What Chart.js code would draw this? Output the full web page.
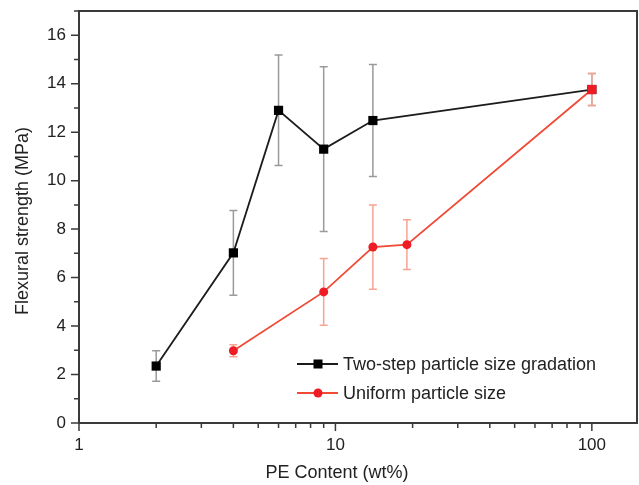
<!DOCTYPE html>
<html>
<head>
<meta charset="utf-8">
<script src="https://cdn.jsdelivr.net/npm/chart.js@4"></script>
<style>
  body { margin: 0; background: #fff; }
  #wrap { width: 639px; height: 485px; position: relative; }
</style>
</head>
<body>
<div id="wrap"><canvas id="chart"></canvas></div>
<script>
// data
const twoStepX = [2, 4, 6, 9, 14, 100];
const twoStepY = [2.35, 7.02, 12.9, 11.3, 12.48, 13.76];
const twoStepErr = [0.63, 1.75, 2.28, 3.4, 2.31, 0.66];

const uniformX = [4, 9, 14, 19, 100];
const uniformY = [2.98, 5.41, 7.26, 7.36, 13.76];
const uniformErr = [0.25, 1.38, 1.74, 1.03, 0.66];

const xTickLabels = [1, 10, 100];
const yTickLabels = [0, 2, 4, 6, 8, 10, 12, 14, 16];

const xTitle = "PE Content (wt%)";
const yTitle = "Flexural strength (MPa)";

const FONT = "'Liberation Sans', Arial, sans-serif";

function toPoints(xs, ys) {
  return xs.map(function (x, i) { return { x: x, y: ys[i] }; });
}

// error bars drawn under the lines
const errorBars = {
  id: "errorBars",
  beforeDatasetsDraw: function (chart) {
    var ctx = chart.ctx;
    var xs = chart.scales.x, ys = chart.scales.y;
    var sets = [
      { x: twoStepX, y: twoStepY, e: twoStepErr, color: "#9a9a9a" },
      { x: uniformX, y: uniformY, e: uniformErr, color: "#f7a493" }
    ];
    ctx.save();
    ctx.lineWidth = 1.5;
    sets.forEach(function (s) {
      ctx.strokeStyle = s.color;
      s.x.forEach(function (xv, i) {
        var px = xs.getPixelForValue(xv);
        var top = ys.getPixelForValue(s.y[i] + s.e[i]);
        var bot = ys.getPixelForValue(s.y[i] - s.e[i]);
        ctx.beginPath();
        ctx.moveTo(px, top); ctx.lineTo(px, bot);
        ctx.moveTo(px - 4, top); ctx.lineTo(px + 4, top);
        ctx.moveTo(px - 4, bot); ctx.lineTo(px + 4, bot);
        ctx.stroke();
      });
    });
    ctx.restore();
  }
};

// frame, tick marks, axis titles and the in-plot legend
const frame = {
  id: "frame",
  afterDraw: function (chart) {
    var ctx = chart.ctx;
    var a = chart.chartArea;
    var xs = chart.scales.x, ys = chart.scales.y;
    ctx.save();
    ctx.strokeStyle = "#3a3a3a";
    ctx.lineWidth = 2;
    ctx.strokeRect(a.left, a.top, a.right - a.left, a.bottom - a.top);

    ctx.lineWidth = 1.5;
    ctx.beginPath();
    for (var v = 0; v <= 17; v++) {
      var py = ys.getPixelForValue(v);
      var len = v % 2 === 0 ? 8 : 5;
      ctx.moveTo(a.left, py); ctx.lineTo(a.left - len, py);
    }
    [1, 10, 100].forEach(function (dec) {
      for (var m = 1; m <= 9; m++) {
        var val = dec * m;
        if (val > xs.max) break;
        var px = xs.getPixelForValue(val);
        var l = m === 1 ? 8 : 5;
        ctx.moveTo(px, a.bottom); ctx.lineTo(px, a.bottom + l);
      }
    });
    ctx.stroke();

    // axis titles
    ctx.fillStyle = "#222";
    ctx.font = "18px " + FONT;
    ctx.textAlign = "center";
    ctx.textBaseline = "middle";
    ctx.fillText(xTitle, 337, 473);
    ctx.save();
    ctx.translate(23, 221);
    ctx.rotate(-Math.PI / 2);
    ctx.fillText(yTitle, 0, 0);
    ctx.restore();

    // legend
    var rows = [
      { ds: chart.data.datasets[0], y: 364 },
      { ds: chart.data.datasets[1], y: 393 }
    ];
    ctx.textAlign = "left";
    rows.forEach(function (r) {
      ctx.strokeStyle = r.ds.borderColor;
      ctx.lineWidth = 1.8;
      ctx.beginPath();
      ctx.moveTo(297, r.y); ctx.lineTo(338, r.y);
      ctx.stroke();
      ctx.fillStyle = r.ds.pointBackgroundColor;
      if (r.ds.pointStyle === "rect") {
        ctx.fillRect(313.5, r.y - 4.5, 9, 9);
      } else {
        ctx.beginPath();
        ctx.arc(318, r.y, 4.5, 0, Math.PI * 2);
        ctx.fill();
      }
      ctx.fillStyle = "#222";
      ctx.fillText(r.ds.label, 343, r.y + 1);
    });
    ctx.restore();
  }
};

new Chart(document.getElementById("chart"), {
  type: "line",
  data: {
    datasets: [
      {
        label: "Two-step particle size gradation",
        data: toPoints(twoStepX, twoStepY),
        borderColor: "#1c1c1c",
        borderWidth: 1.8,
        pointStyle: "rect",
        pointRadius: 6.5,
        pointBackgroundColor: "#000",
        pointBorderWidth: 0,
        order: 2
      },
      {
        label: "Uniform particle size",
        data: toPoints(uniformX, uniformY),
        borderColor: "#f04a35",
        borderWidth: 1.8,
        pointStyle: ["circle", "circle", "circle", "circle", "rect"],
        pointRadius: [4.5, 4.5, 4.5, 4.5, 6.5],
        pointBackgroundColor: "#ee1c24",
        pointBorderWidth: 0,
        order: 1
      }
    ]
  },
  options: {
    responsive: true,
    maintainAspectRatio: false,
    animation: false,
    devicePixelRatio: 1,
    layout: { autoPadding: false, padding: { top: 11, right: 2, left: 0, bottom: 0 } },
    plugins: { legend: { display: false }, tooltip: { enabled: false } },
    scales: {
      x: {
        type: "logarithmic",
        min: 1,
        max: 150,
        afterBuildTicks: function (s) {
          s.ticks = xTickLabels.map(function (v) { return { value: v }; });
        },
        afterFit: function (s) {
          s.height = 62;
          s.paddingLeft = 0;
          s.paddingRight = 0;
        },
        grid: { display: false, drawTicks: false },
        border: { display: false },
        ticks: {
          autoSkip: false,
          maxRotation: 0,
          padding: 12,
          color: "#222",
          font: { family: FONT, size: 17 },
          callback: function (v) { return String(v); }
        },
        title: { display: false }
      },
      y: {
        min: 0,
        max: 17,
        afterBuildTicks: function (s) {
          s.ticks = yTickLabels.map(function (v) { return { value: v }; });
        },
        afterFit: function (s) {
          s.width = 79;
          s.paddingTop = 0;
          s.paddingBottom = 0;
        },
        grid: { display: false, drawTicks: false },
        border: { display: false },
        ticks: {
          padding: 13,
          color: "#222",
          font: { family: FONT, size: 17 }
        },
        title: { display: false }
      }
    }
  },
  plugins: [errorBars, frame]
});
</script>
</body>
</html>
